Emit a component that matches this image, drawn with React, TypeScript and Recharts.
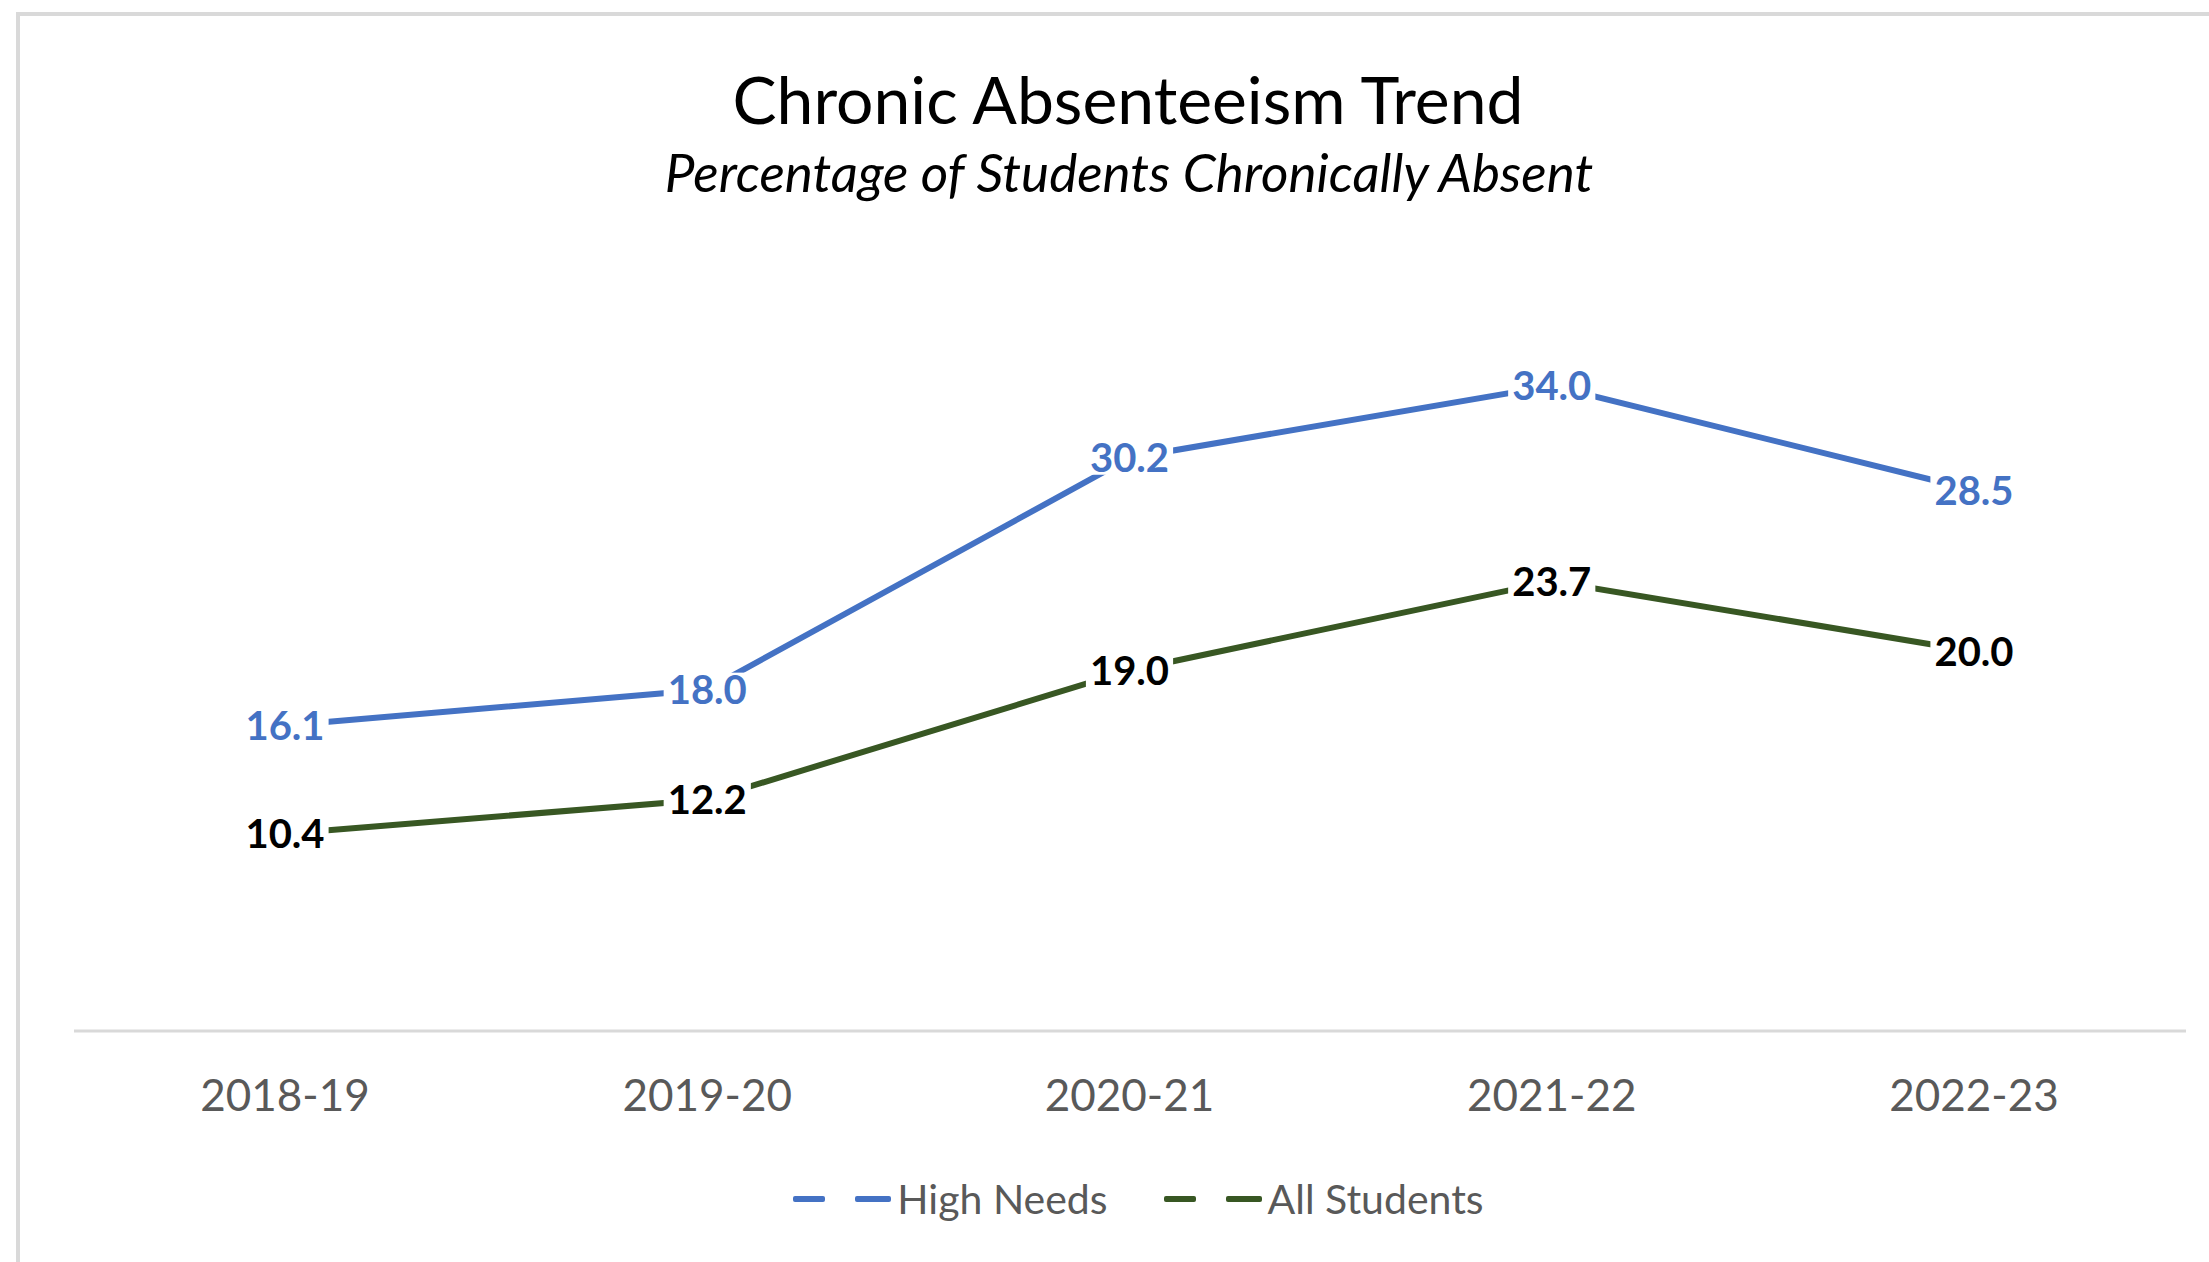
import { LineChart, Line, XAxis, YAxis, Legend, LabelList } from "recharts";

const years = ["2018-19", "2019-20", "2020-21", "2021-22", "2022-23"];
const highNeeds = [16.1, 18.0, 30.2, 34.0, 28.5];
const allStudents = [10.4, 12.2, 19.0, 23.7, 20.0];
const seriesNames = ["High Needs", "All Students"];

const data = years.map((year, i) => ({
  year,
  highNeeds: highNeeds[i],
  allStudents: allStudents[i],
}));

const FONT = "Lato, 'Open Sans', sans-serif";
const BLUE = "#4472C4";
const GREEN = "#385723";
const GRAY = "#595959";
const LABEL_SIZE = 40;

const W = 2209;
const H = 1262;

function makeLabel(color: string) {
  return (props: any) => {
    const { x, y, value } = props;
    if (x == null || y == null) return null;
    const text = Number(value).toFixed(1);
    const w = text.length * 0.52 * LABEL_SIZE + 4;
    return (
      <g>
        <rect x={x - w / 2} y={y - LABEL_SIZE * 0.42} width={w} height={LABEL_SIZE * 0.84} fill="#ffffff" />
        <text
          x={x}
          y={y}
          dy="0.36em"
          textAnchor="middle"
          fill={color}
          fontSize={LABEL_SIZE}
          fontWeight={700}
          fontFamily={FONT}
        >
          {text}
        </text>
      </g>
    );
  };
}

function LegendContent(props: any) {
  // keep the series order (recharts sorts the payload by name)
  const items = [...(props.payload || [])].sort(
    (a: any, b: any) => seriesNames.indexOf(a.value) - seriesNames.indexOf(b.value)
  );
  return (
    <div style={{ display: "flex", justifyContent: "center", gap: 56, fontFamily: FONT, paddingLeft: 68 }}>
      {items.map((item: any) => (
        <div key={item.value} style={{ display: "flex", alignItems: "center" }}>
          <span style={{ display: "inline-block", width: 32, height: 6, borderRadius: 2, background: item.color }} />
          <span style={{ display: "inline-block", width: 36, height: 6, borderRadius: 2, background: item.color, marginLeft: 30 }} />
          <span style={{ color: GRAY, fontSize: 41, marginLeft: 6, lineHeight: "50px" }}>{item.value}</span>
        </div>
      ))}
    </div>
  );
}

export default function App() {
  return (
    <div style={{ position: "absolute", left: 0, top: 0, width: W, height: H, overflow: "hidden", background: "#fff" }}>
      <div
        style={{
          position: "absolute",
          left: 16,
          top: 12,
          width: W + 100,
          height: H + 100,
          border: "4px solid #D9D9D9",
          boxSizing: "border-box",
        }}
      />
      <LineChart width={W} height={H} data={data} margin={{ top: 272, right: 23, bottom: 201, left: 74 }}>
        <XAxis
          dataKey="year"
          height={30}
          padding={{ left: 211, right: 212 }}
          axisLine={{ stroke: "#D9D9D9", strokeWidth: 3 }}
          tickLine={false}
          tickMargin={43}
          tick={{ fill: GRAY, fontSize: 44, fontFamily: FONT }}
        />
        <YAxis hide domain={[0, 40]} />
        <Legend
          verticalAlign="middle"
          layout="horizontal"
          wrapperStyle={{ top: 1174, left: 0, width: W }}
          content={<LegendContent />}
        />
        <Line
          name={seriesNames[0]}
          dataKey="highNeeds"
          stroke={BLUE}
          strokeWidth={6}
          dot={false}
          isAnimationActive={false}
        >
          <LabelList dataKey="highNeeds" content={makeLabel(BLUE)} />
        </Line>
        <Line
          name={seriesNames[1]}
          dataKey="allStudents"
          stroke={GREEN}
          strokeWidth={6}
          dot={false}
          isAnimationActive={false}
        >
          <LabelList dataKey="allStudents" content={makeLabel("#000000")} />
        </Line>
      </LineChart>
      <svg width={W} height={H} style={{ position: "absolute", left: 0, top: 0, pointerEvents: "none" }}>
        <text x={1128} y={124} textAnchor="middle" fontFamily={FONT} fontSize={66} fill="#000">
          Chronic Absenteeism Trend
        </text>
        <text x={1129} y={192} textAnchor="middle" fontFamily={FONT} fontStyle="italic" fontSize={53} fill="#000">
          Percentage of Students Chronically Absent
        </text>
      </svg>
    </div>
  );
}
